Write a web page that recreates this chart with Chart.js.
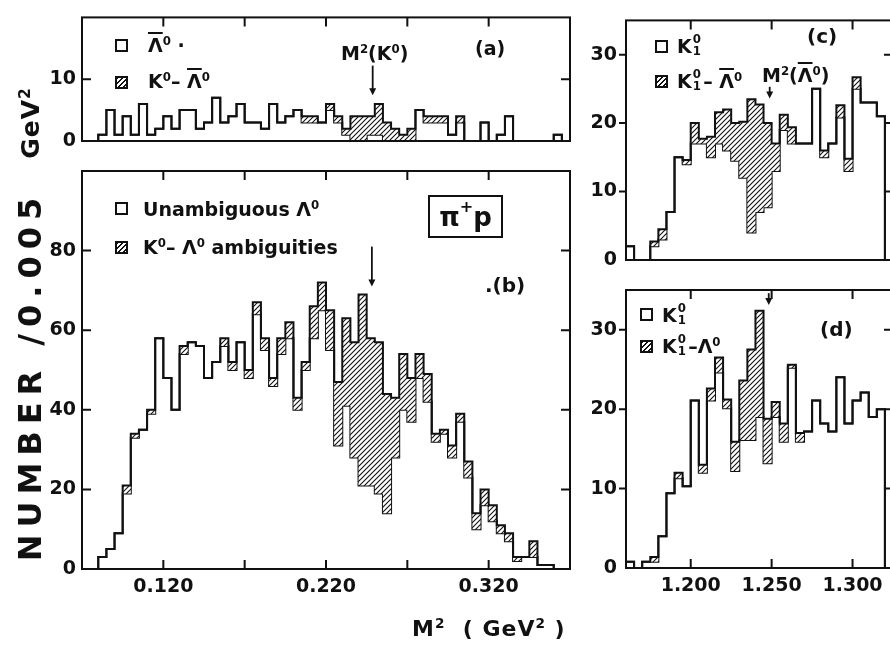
<!DOCTYPE html>
<html><head><meta charset="utf-8">
<script src="https://cdn.jsdelivr.net/npm/chart.js@4.4.1/dist/chart.umd.min.js"></script>
<style>
html,body{margin:0;padding:0;background:#fff;}
#wrap{position:relative;width:890px;height:646px;overflow:hidden;background:#fff;font-family:"DejaVu Sans",sans-serif;font-weight:bold;color:#111;}
canvas{position:absolute;left:0;top:0;}
.t{position:absolute;white-space:nowrap;font-size:19px;line-height:1;z-index:5;}
.sq{position:absolute;width:13px;height:13px;border:2px solid #111;box-sizing:border-box;background:#fff;z-index:5;}
.hq{background:repeating-linear-gradient(135deg,#111 0 1.4px,#fff 1.4px 3.4px);}
.ob{text-decoration:overline;text-decoration-thickness:2px;}
.sp{font-size:0.62em;position:relative;top:-0.6em;}
.st{display:inline-block;position:relative;width:0.6em;height:1em;vertical-align:top;}
.st i{position:absolute;left:0.08em;font-style:normal;font-size:0.62em;}
.st i.u{top:-0.28em;} .st i.d{top:0.78em;}
.box{position:absolute;border:2px solid #111;z-index:5;box-sizing:border-box;display:flex;align-items:center;justify-content:center;font-size:26px;line-height:1;}
.rot{transform:translate(-50%,-50%) rotate(-90deg);}
</style></head>
<body><div id="wrap">
<div class="t rot" style="left:30px;top:376px;font-size:32px;letter-spacing:7px;">NUMBER /0.005</div>
<div class="t rot" style="left:30px;top:123px;font-size:25px;letter-spacing:1px;">GeV<span class="sp">2</span></div>
<div class="t" style="left:412px;top:618px;font-size:22px;letter-spacing:1px;">M<span class="sp">2</span>&nbsp;&nbsp;(&nbsp;GeV<span class="sp">2</span>&nbsp;)</div>

<div class="sq" style="left:115px;top:39px"></div>
<div class="t" style="left:148px;top:36px"><span class="ob">Λ</span><span class="sp">0</span> ·</div>
<div class="sq hq" style="left:115px;top:76px"></div>
<div class="t" style="left:148px;top:72px">K<span class="sp">0</span>– <span class="ob">Λ</span><span class="sp">0</span></div>
<div class="t" style="left:341px;top:44px">M<span class="sp">2</span>(K<span class="sp">0</span>)</div>
<div class="t" style="left:475px;top:39px">(a)</div>

<div class="sq" style="left:115px;top:202px"></div>
<div class="t" style="left:143px;top:200px">Unambiguous Λ<span class="sp">0</span></div>
<div class="sq hq" style="left:115px;top:241px"></div>
<div class="t" style="left:143px;top:238px">K<span class="sp">0</span>– Λ<span class="sp">0</span> ambiguities</div>
<div class="box" style="left:428px;top:195px;width:75px;height:43px;">π<span class="sp">+</span>p</div>
<div class="t" style="left:485px;top:275px;font-size:20px">.(b)</div>

<div class="sq" style="left:655px;top:40px"></div>
<div class="t" style="left:677px;top:37px">K<span class="st"><i class="u">0</i><i class="d">1</i></span></div>
<div class="sq hq" style="left:655px;top:75px"></div>
<div class="t" style="left:677px;top:72px">K<span class="st"><i class="u">0</i><i class="d">1</i></span>– <span class="ob">Λ</span><span class="sp">0</span></div>
<div class="t" style="left:762px;top:66px">M<span class="sp">2</span>(<span class="ob">Λ</span><span class="sp">0</span>)</div>
<div class="t" style="left:807px;top:26px;font-size:20px">(c)</div>

<div class="sq" style="left:640px;top:308px"></div>
<div class="t" style="left:662px;top:306px">K<span class="st"><i class="u">0</i><i class="d">1</i></span></div>
<div class="sq hq" style="left:640px;top:340px"></div>
<div class="t" style="left:662px;top:337px">K<span class="st"><i class="u">0</i><i class="d">1</i></span>–Λ<span class="sp">0</span></div>
<div class="t" style="left:820px;top:319px;font-size:20px">(d)</div>
</div>
<script>
// ---------- data ----------
const BIN = 0.005;
const xStartLeft = 0.070, xEndLeft = 0.370;
const xStartRight = 1.160, xEndRight = 1.325;

// panel (a): anti-Lambda, total (incl. K0-antiLambda ambiguities) and unambiguous
const totalA = [0,0,0,1,5,1,4,1,6,1, 2,4,2,5,5,2,3,7,3,4, 6,3,3,2,6,3,4,5,4,4, 3,6,4,2,4,4,4,6,3,2, 1,2,5,4,4,4,1,4,0,0, 3,0,1,4,0,0,0,0,0,1];
const unambA = [0,0,0,1,5,1,4,1,6,1, 2,4,2,5,5,2,3,7,3,4, 6,3,3,2,6,3,4,5,3,3, 3,5,3,1,0,0,1,1,0,0, 0,0,5,3,3,3,1,3,0,0, 3,0,1,4,0,0,0,0,0,1];
// panel (b): Lambda
const totalB = [0,0,0,3,5,9,21,34,35,40, 58,48,40,56,57,56,48,52,58,52, 57,50,67,58,48,58,62,43,52,66, 72,65,47,63,57,69,58,57,44,43, 54,48,54,49,34,35,31,39,27,14, 20,16,11,9,3,3,7,1,1,0];
const unambB = [0,0,0,3,5,9,19,33,35,39, 58,48,40,54,57,56,48,52,56,50, 57,48,64,55,46,54,58,40,50,58, 65,55,31,41,28,21,21,19,14,28, 40,37,48,42,32,34,28,37,23,10, 16,12,9,7,2,3,3,1,1,0];
// panel (c): K1 with K1-antiLambda ambiguities
const totalC = [0,2,0,0,2.7,4.5,7,15,14.6,20, 17.7,18,21.6,22,20,20.2,23.5,22.7,20,17, 21.2,19.4,17,17,25,16,17,22.6,14.8,26.7, 23,23,21];
const unambC = [0,2,0,0,2,3,7,15,14,17, 17,15,17,16,14.5,12,4,7,7.7,13, 19,17,17,17,25,15,17,20.8,13,25, 23,23,21];
// panel (d): K1 with K1-Lambda ambiguities
const totalD = [0,0.8,0,0.8,1.4,4,9.4,12,10.3,21.1, 13,22.6,26.5,21.2,15.9,23.6,27.5,32.4,18.8,20.9, 18.2,25.6,17,17.2,21.1,18.2,17.2,24,18.2,21.1, 22.1,19,20];
const unambD = [0,0.8,0,0.8,0.8,4,9.4,11.3,10.3,21.1, 12,21.1,24.6,20.1,12.2,16.1,16.1,19,13.2,19, 15.9,25.2,15.9,17.2,21.1,18.2,17.2,24,18.2,21.1, 22.1,19,20];

const xTicksLeft = [0.120,0.170,0.220,0.270,0.320];
const xLabelsLeft = [0.120,0.220,0.320];
const xTicksRight = [1.200,1.250,1.300];
const xLabelsRight = [1.200,1.250,1.300];
const yLabelsA = [0,10], yLabelsB = [0,20,40,60,80], yLabelsCD = [0,10,20,30];
const yMarksA = [10], yMarksB = [20,40,60,80], yMarksCD = [10,20,30];
const arrowA = {x:0.2487, from:12.2, to:7.4};
const arrowB = {x:0.2482, from:81, to:71};
const arrowC = {x:1.2488, from:25.3, to:23.6};
const arrowD = {x:1.2482, from:34.6, to:33.1};

// ---------- drawing ----------
const W = 910, H = 646;
const wrap = document.getElementById('wrap');
const FONT = {family:'DejaVu Sans', weight:'bold', size:19};

function hatchPattern(){
  const c = document.createElement('canvas'); c.width = 5; c.height = 5;
  const g = c.getContext('2d');
  g.fillStyle = '#fff'; g.fillRect(0,0,5,5);
  g.strokeStyle = '#111'; g.lineWidth = 1.1;
  g.beginPath();
  g.moveTo(-1,6); g.lineTo(6,-1);
  g.moveTo(-1,1); g.lineTo(1,-1);
  g.moveTo(4,6); g.lineTo(6,4);
  g.stroke();
  return g.createPattern(c,'repeat');
}

function framePlugin(spec){
  return {
    id:'frame',
    afterDatasetsDraw(chart){
      const ctx = chart.ctx, a = chart.chartArea, x = chart.scales.x, y = chart.scales.y;
      const L = 9;
      ctx.save();
      ctx.strokeStyle = '#111'; ctx.fillStyle = '#111'; ctx.lineWidth = 2;
      ctx.strokeRect(a.left, a.top, a.right - a.left, a.bottom - a.top);
      ctx.beginPath();
      (spec.top||[]).forEach(v=>{const p=x.getPixelForValue(v); ctx.moveTo(p,a.top); ctx.lineTo(p,a.top+L);});
      (spec.bottom||[]).forEach(v=>{const p=x.getPixelForValue(v); ctx.moveTo(p,a.bottom); ctx.lineTo(p,a.bottom-L);});
      (spec.leftIn||[]).forEach(v=>{const p=y.getPixelForValue(v); ctx.moveTo(a.left,p); ctx.lineTo(a.left+L,p);});
      (spec.leftOut||[]).forEach(v=>{const p=y.getPixelForValue(v); ctx.moveTo(a.left,p); ctx.lineTo(a.left-7,p);});
      (spec.right||[]).forEach(v=>{const p=y.getPixelForValue(v); ctx.moveTo(a.right,p); ctx.lineTo(a.right-L,p);});
      ctx.stroke();
      (spec.arrows||[]).forEach(ar=>{
        const px = x.getPixelForValue(ar.x), y1 = y.getPixelForValue(ar.from), y2 = y.getPixelForValue(ar.to);
        ctx.lineWidth = 1.8;
        ctx.beginPath(); ctx.moveTo(px,y1); ctx.lineTo(px,y2-4); ctx.stroke();
        ctx.beginPath(); ctx.moveTo(px-3.5,y2-7); ctx.lineTo(px+3.5,y2-7); ctx.lineTo(px,y2); ctx.closePath(); ctx.fill();
      });
      ctx.restore();
    }
  };
}

function panel(cfg){
  const cv = document.createElement('canvas');
  cv.width = W; cv.height = H;
  wrap.insertBefore(cv, wrap.firstChild);
  const steps = arr => {
    const p = arr.map((v,i)=>({x: cfg.x0 + i*BIN, y: v}));
    p.push({x: cfg.x0 + arr.length*BIN, y: 0});
    return p;
  };
  const hasX = !!cfg.xLabels;
  new Chart(cv, {
    type:'line',
    data:{datasets:[
      {data: steps(cfg.total), stepped:'after', fill:'+1', backgroundColor: hatchPattern(), borderColor:'#111', borderWidth:2, pointRadius:0},
      {data: steps(cfg.unamb), stepped:'after', fill:false, borderColor:'#111', borderWidth:2, pointRadius:0}
    ]},
    options:{
      responsive:false, animation:false, devicePixelRatio:1,
      layout:{padding:{left:0, top:cfg.box.t, right:W - cfg.box.r, bottom:H - cfg.box.b - (hasX?30:0)}},
      plugins:{legend:{display:false}, tooltip:{enabled:false}},
      scales:{
        x:{type:'linear', min:cfg.x0, max:cfg.x1, display:hasX,
           grid:{display:false, drawTicks:false, tickLength:0}, border:{display:false},
           afterFit:s=>{s.height = 30;},
           afterBuildTicks:s=>{s.ticks = (cfg.xLabels||[]).map(v=>({value:v}));},
           ticks:{callback:v=>Number(v).toFixed(3), font:FONT, color:'#111', padding:7, maxRotation:0, autoSkip:false}},
        y:{type:'linear', min:0, max:cfg.yMax, display:true,
           grid:{display:false, drawTicks:false, tickLength:0}, border:{display:false},
           afterFit:s=>{s.width = cfg.box.l;},
           afterBuildTicks:s=>{s.ticks = cfg.yLabels.map(v=>({value:v}));},
           ticks:{font:FONT, color:'#111', padding:cfg.yPad, autoSkip:false}}
      }
    },
    plugins:[framePlugin(cfg.frame)]
  });
}

panel({x0:xStartLeft, x1:xEndLeft, yMax:20, total:totalA, unamb:unambA,
  box:{l:82,t:8,r:570,b:171}, yLabels:yLabelsA, yPad:6,
  frame:{top:xTicksLeft, leftIn:yMarksA, right:yMarksA, arrows:[arrowA]}});
panel({x0:xStartLeft, x1:xEndLeft, yMax:100, total:totalB, unamb:unambB,
  box:{l:82,t:171,r:570,b:569}, yLabels:yLabelsB, yPad:6, xLabels:xLabelsLeft,
  frame:{top:xTicksLeft, bottom:xTicksLeft, leftIn:yMarksB, right:yMarksB, arrows:[arrowB]}});
panel({x0:xStartRight, x1:xEndRight, yMax:35, total:totalC, unamb:unambC,
  box:{l:626,t:8,r:893,b:290}, yLabels:yLabelsCD, yPad:9,
  frame:{top:xTicksRight, leftOut:yMarksCD, right:yMarksCD, arrows:[arrowC]}});
panel({x0:xStartRight, x1:xEndRight, yMax:35, total:totalD, unamb:unambD,
  box:{l:626,t:290,r:893,b:568}, yLabels:yLabelsCD, yPad:9, xLabels:xLabelsRight,
  frame:{top:xTicksRight, bottom:xTicksRight, leftOut:yMarksCD, right:yMarksCD, arrows:[arrowD]}});
</script>
</body></html>
